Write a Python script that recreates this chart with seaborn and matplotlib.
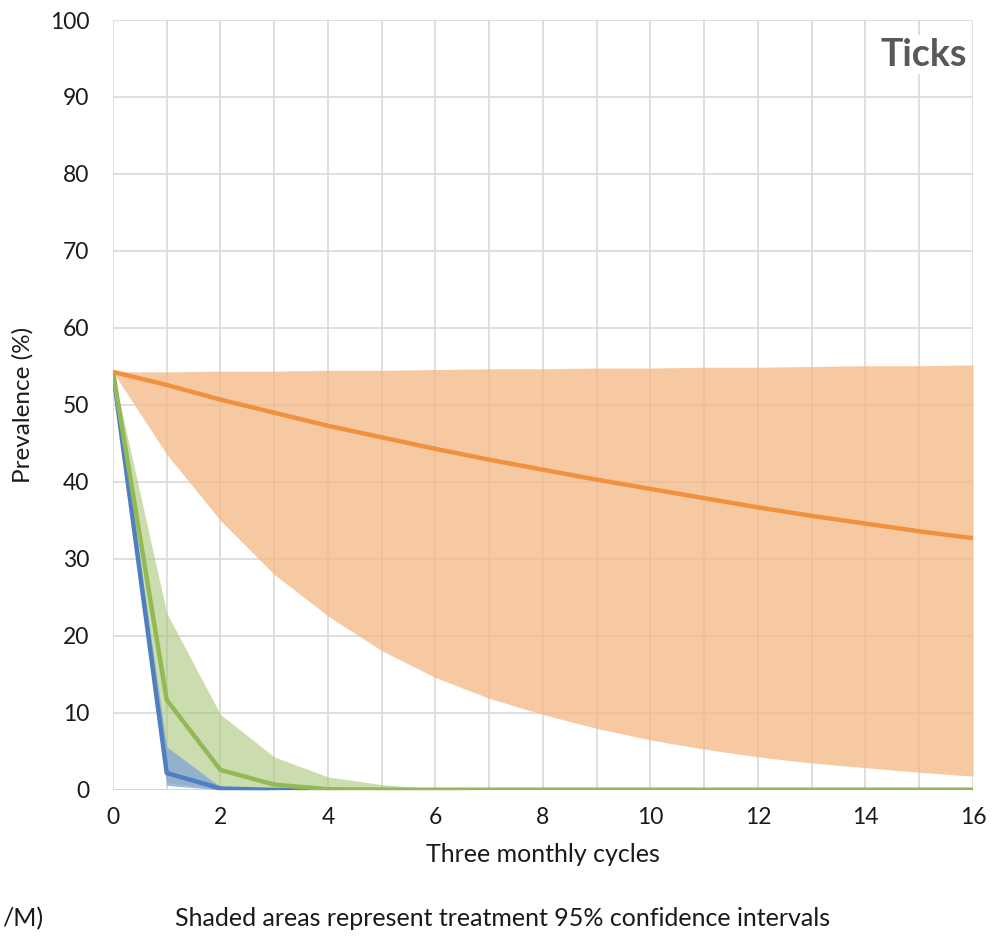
import numpy as np
import pandas as pd
import matplotlib
matplotlib.use("Agg")
import matplotlib.pyplot as plt
from matplotlib.ticker import MultipleLocator
import seaborn as sns

# Three-monthly cycles
cycles = list(range(17))

# Orange scenario: mean prevalence and 95% CI
orange_mean = [54.3, 52.6, 50.7, 49.0, 47.3, 45.8, 44.3, 42.9, 41.6, 40.3,
               39.1, 37.9, 36.7, 35.6, 34.6, 33.6, 32.7]
orange_upper = [54.3, 54.3, 54.4, 54.4, 54.5, 54.5, 54.6, 54.7, 54.7, 54.8,
                54.8, 54.9, 54.9, 55.0, 55.1, 55.1, 55.2]
orange_lower = [54.3, 43.6, 35.0, 28.0, 22.6, 18.1, 14.6, 11.9, 9.8, 8.0,
                6.5, 5.3, 4.3, 3.5, 2.9, 2.3, 1.8]

# Green scenario
green_mean = [54.3, 11.7, 2.6, 0.7, 0.1, 0.0, 0.0, 0.0, 0.0, 0.0,
              0.0, 0.0, 0.0, 0.0, 0.0, 0.0, 0.0]
green_upper = [54.3, 23.0, 9.8, 4.3, 1.7, 0.7, 0.1, 0.0, 0.0, 0.0,
               0.0, 0.0, 0.0, 0.0, 0.0, 0.0, 0.0]
green_lower = [54.3, 1.0, 0.1, 0.0, 0.0, 0.0, 0.0, 0.0, 0.0, 0.0,
               0.0, 0.0, 0.0, 0.0, 0.0, 0.0, 0.0]

# Blue scenario
blue_mean = [54.3, 2.2, 0.2, 0.0, 0.0, 0.0, 0.0, 0.0, 0.0, 0.0,
             0.0, 0.0, 0.0, 0.0, 0.0, 0.0, 0.0]
blue_upper = [54.3, 5.6, 0.4, 0.0, 0.0, 0.0, 0.0, 0.0, 0.0, 0.0,
              0.0, 0.0, 0.0, 0.0, 0.0, 0.0, 0.0]
blue_lower = [54.3, 0.6, 0.0, 0.0, 0.0, 0.0, 0.0, 0.0, 0.0, 0.0,
              0.0, 0.0, 0.0, 0.0, 0.0, 0.0, 0.0]

x_ticks = list(range(0, 17, 2))
y_ticks = list(range(0, 101, 10))

sns.set_theme(style="whitegrid")
plt.rcParams["font.family"] = ["Lato", "DejaVu Sans"]

fig = plt.figure(figsize=(10.06, 9.39), dpi=100)
ax = fig.add_axes([0.1123, 0.1587, 0.8549, 0.8200])

df = pd.DataFrame({
    "cycle": cycles * 3,
    "prev": orange_mean + green_mean + blue_mean,
    "scenario": ["orange"] * 17 + ["green"] * 17 + ["blue"] * 17,
})

# confidence bands
ax.fill_between(cycles, orange_lower, orange_upper, color="#F5B783", alpha=0.75,
                linewidth=0, zorder=1)
ax.fill_between(cycles, green_lower, green_upper, color="#A9C77A", alpha=0.6,
                linewidth=0, zorder=2)
ax.fill_between(cycles, blue_lower, blue_upper, color="#7FA3D4", alpha=0.75,
                linewidth=0, zorder=3)

palette = {"blue": "#4F7FBF", "green": "#93B957", "orange": "#F0913F"}
for name in ["blue", "green", "orange"]:
    sub = df[df["scenario"] == name]
    sns.lineplot(data=sub, x="cycle", y="prev", color=palette[name], lw=3.2,
                 ax=ax, legend=False, zorder=5, solid_capstyle="butt")

ax.set_xlim(0, 16)
ax.set_ylim(0, 100)
ax.set_xticks(x_ticks)
ax.xaxis.set_minor_locator(MultipleLocator(1))
ax.set_yticks(y_ticks)
ax.grid(True, which="both", axis="x", color="#D9D9D9", lw=1.2)
ax.grid(True, which="major", axis="y", color="#D9D9D9", lw=1.2)
ax.set_axisbelow(True)
for s in ax.spines.values():
    s.set_visible(False)
ax.axhline(0, color="#D0D0D0", lw=1.4, zorder=0.5)

ax.tick_params(axis="both", which="both", length=0, labelsize=16.5,
               labelcolor="#1a1a1a")
ax.tick_params(axis="y", pad=17)
ax.tick_params(axis="x", pad=12)

ax.set_xlabel("Three monthly cycles", fontsize=18, color="#1a1a1a", labelpad=11)
ax.set_ylabel("Prevalence (%)", fontsize=17.5, color="#1a1a1a", labelpad=12)

ax.text(0.993, 0.955, "Ticks", transform=ax.transAxes, ha="right", va="center",
        fontsize=27, fontweight="bold", color="#595959",
        bbox=dict(facecolor="white", edgecolor="none", pad=2))

fig.text(0.002, 0.022, "/M)", fontsize=18, color="#1a1a1a", ha="left", va="center")
fig.text(0.174, 0.022, "Shaded areas represent treatment 95% confidence intervals",
         fontsize=18, color="#1a1a1a", ha="left", va="center")

fig.savefig("out.png", dpi=100, facecolor="white")
